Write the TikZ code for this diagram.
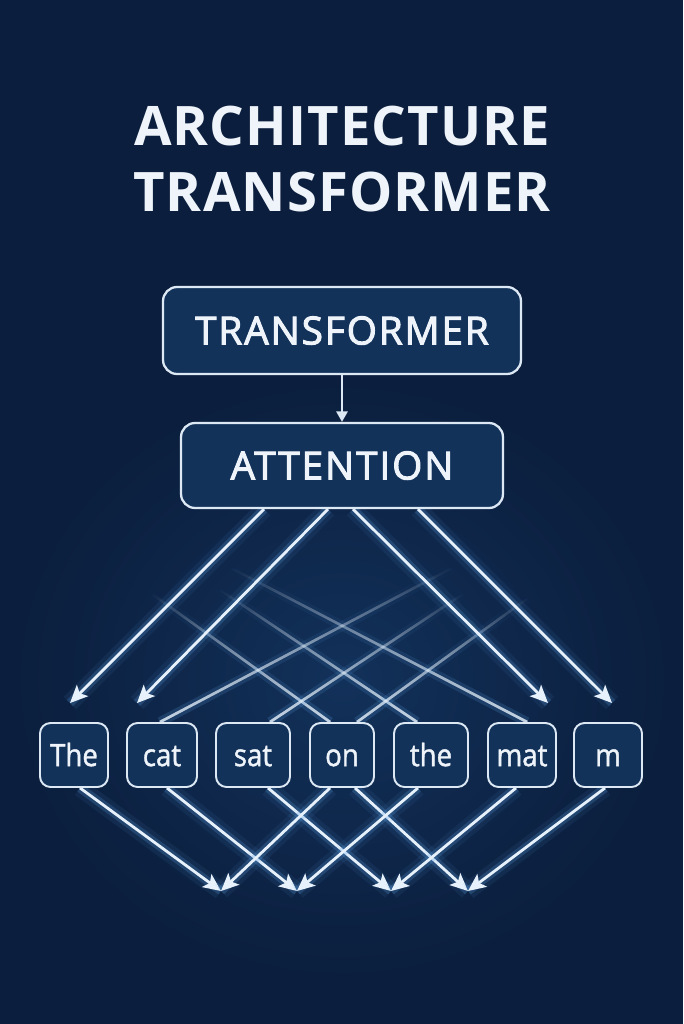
\documentclass[tikz,border=0pt]{standalone}
\usepackage{fontspec}
\setmainfont{Open Sans}
\newfontfamily\wordfont{Open Sans}[FakeStretch=0.9, FakeBold=1.3]
\newfontfamily\boxfont{Open Sans}[FakeBold=2.6, LetterSpace=5]
\newfontfamily\titlefont{Open Sans Bold}[LetterSpace=2]
\usetikzlibrary{arrows.meta,calc,fadings}
\definecolor{bg}{HTML}{0B1E3D}
\definecolor{bglight}{HTML}{12315A}
\definecolor{boxfill}{HTML}{12325A}
\definecolor{boxline}{HTML}{DCE8F3}
\definecolor{txt}{HTML}{EEF4FA}
\definecolor{linec}{HTML}{E6F1FB}
\definecolor{glowc}{HTML}{5EA4E6}
\tikzfading[name=midfade, top color=transparent!100, middle color=transparent!0, bottom color=transparent!40]
\pgfdeclarelayer{bgl}
\pgfdeclarelayer{lines}
\pgfsetlayers{bgl,lines,main}
\begin{document}
\begin{tikzpicture}[x=0.02cm,y=-0.02cm,
  titletext/.style={text=txt, font=\titlefont\fontsize{31}{36}\selectfont, inner sep=0pt},
  bigbox/.style={draw=boxline, fill=boxfill, line width=1.3pt, rounded corners=8pt,
     text=txt, font=\boxfont\fontsize{22}{26}\selectfont, inner sep=0pt, text height=15.8pt, text depth=0pt},
  wordbox/.style={draw=boxline, fill=boxfill, line width=1.1pt, rounded corners=6pt,
     text=txt, font=\wordfont\fontsize{17.5}{20}\selectfont, inner sep=0pt,
     minimum height=1.28cm, text height=12.6pt, text depth=0pt},
  glowline/.style={draw=linec, line width=1.6pt,
     preaction={draw=glowc, line width=10pt, draw opacity=0.08, -},
     preaction={draw=glowc, line width=5pt, draw opacity=0.22, -}},
  tipend/.style={-{Stealth[length=10pt,width=9pt,inset=2.2pt]}},
  faintline/.style={draw=linec, line width=1.5pt, path fading=midfade,
     preaction={draw=glowc, line width=5.5pt, draw opacity=0.35, path fading=midfade},
     postaction={draw=linec, line width=1.5pt, path fading=midfade}},
  smallarrow/.style={draw=boxline, line width=1.1pt, -{Triangle[length=6pt,width=6.5pt]}}
]
\begin{pgfonlayer}{bgl}
  \fill[bg] (0,0) rectangle (683,1024);
  \shade[inner color=bglight, outer color=bg] (342,680) ellipse (330 and 300);
\end{pgfonlayer}

% title
\node[titletext] (title1) at (342,126.5) {ARCHITECTURE};
\node[titletext] (title2) at (342,192) {TRANSFORMER};

% main boxes
\node[bigbox, minimum width=7.16cm, minimum height=1.74cm] (transformer) at (342,330.5) {TRANSFORMER};
\node[bigbox, minimum width=6.44cm, minimum height=1.70cm] (attention) at (342,465.5) {ATTENTION};
\draw[smallarrow] (transformer.south) -- (attention.north);

% word boxes
\node[wordbox, minimum width=1.36cm] (w1) at (74,755) {The};
\node[wordbox, minimum width=1.40cm] (w2) at (162,755) {cat};
\node[wordbox, minimum width=1.48cm] (w3) at (253,755) {sat};
\node[wordbox, minimum width=1.28cm] (w4) at (342,755) {on};
\node[wordbox, minimum width=1.48cm] (w5) at (431,755) {the};
\node[wordbox, minimum width=1.36cm] (w6) at (522,755) {mat};
\node[wordbox, minimum width=1.36cm] (w7) at (608,755) {m};

% tips and free ends
\coordinate (t1) at (70,703);
\coordinate (t2) at (137,703);
\coordinate (t3) at (548,703);
\coordinate (t4) at (612,703);
\coordinate (fa) at (231,568);
\coordinate (fb) at (220,590);
\coordinate (fc) at (152,594);
\coordinate (fd) at (452,568);
\coordinate (fe) at (463,594);
\coordinate (ff) at (528,598);
\coordinate (b1) at (221,891);
\coordinate (b2) at (297,891);
\coordinate (b3) at (391,891);
\coordinate (b4) at (468,891);

\begin{pgfonlayer}{lines}
  % faint attention lines into word boxes
  \draw[faintline] (fa) -- ($(w6.north)+(5,0)$);
  \draw[faintline] (fb) -- ($(w5.north)+(-14,0)$);
  \draw[faintline] (fc) -- ($(w4.north)+(-12,0)$);
  \draw[faintline] (fd) -- ($(w2.north)+(-2,0)$);
  \draw[faintline] (fe) -- ($(w3.north)+(17,0)$);
  \draw[faintline] (ff) -- ($(w4.north)+(15,0)$);
  % main attention arrows
  \draw[glowline, tipend] ($(attention.south)+(-78,0)$) -- (t1);
  \draw[glowline, tipend] ($(attention.south)+(-14,0)$) -- (t2);
  \draw[glowline, tipend] ($(attention.south)+(11,0)$) -- (t3);
  \draw[glowline, tipend] ($(attention.south)+(76,0)$) -- (t4);
  % lower arrows
  \draw[glowline, tipend] ($(w1.south)+(6,0)$) -- (b1);
  \draw[glowline, tipend] ($(w2.south)+(5,0)$) -- (b2);
  \draw[glowline, tipend] ($(w3.south)+(15,0)$) -- (b3);
  \draw[glowline, tipend] ($(w4.south)+(13,0)$) -- (b4);
  \draw[glowline, tipend] ($(w4.south)+(-12,0)$) -- (b1);
  \draw[glowline, tipend] ($(w5.south)+(-13,0)$) -- (b2);
  \draw[glowline, tipend] ($(w6.south)+(-6,0)$) -- (b3);
  \draw[glowline, tipend] ($(w7.south)+(-3,0)$) -- (b4);
\end{pgfonlayer}
\end{tikzpicture}
\end{document}
